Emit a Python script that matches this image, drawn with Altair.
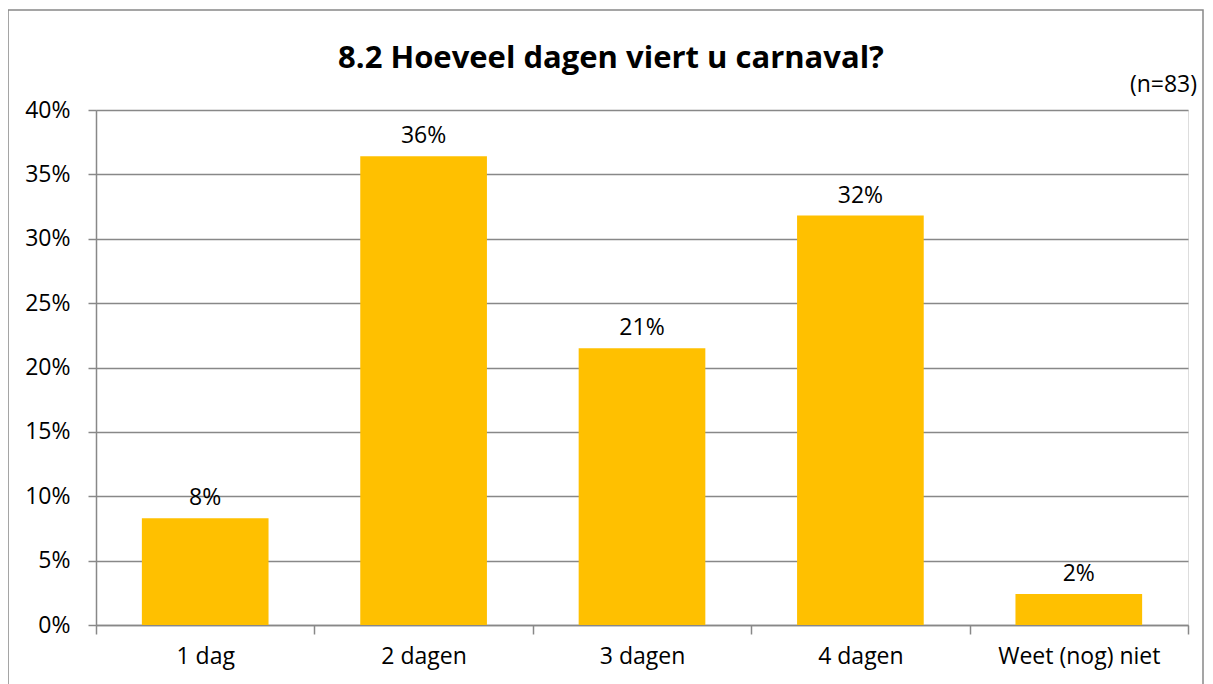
import altair as alt
import pandas as pd

categories = ["1 dag", "2 dagen", "3 dagen", "4 dagen", "Weet (nog) niet"]
values = [0.083, 0.364, 0.215, 0.318, 0.024]
labels = ["8%", "36%", "21%", "32%", "2%"]

df = pd.DataFrame({"cat": categories, "val": values, "lab": labels})

FONT = "Open Sans"
FS = 23
W, H = 1092, 515

x = alt.X("cat:N", sort=categories, title=None,
          scale=alt.Scale(paddingInner=0, paddingOuter=0),
          axis=alt.Axis(labelAngle=0, labelFont=FONT, labelFontSize=FS, labelColor="#000",
                        tickBand="extent", tickSize=9, tickColor="#888", tickWidth=1.5,
                        domainColor="#888", domainWidth=1.5, labelPadding=11, grid=False))
y = alt.Y("val:Q", title=None,
          scale=alt.Scale(domain=[0, 0.4], nice=False),
          axis=alt.Axis(format=".0%", values=[0, 0.05, 0.1, 0.15, 0.2, 0.25, 0.3, 0.35, 0.4],
                        labelFont=FONT, labelFontSize=FS, labelColor="#000",
                        tickSize=8, tickColor="#888", tickWidth=1.5, labelPadding=18,
                        domainColor="#888", domainWidth=1.5,
                        grid=True, gridColor="#888", gridWidth=1.5))

base = alt.Chart(df)
bars = base.mark_bar(color="#FFC000", width=alt.RelativeBandSize(0.58)).encode(x=x, y=y)
text = base.mark_text(font=FONT, fontSize=FS, color="#000", baseline="bottom", dy=-8).encode(
    x=alt.X("cat:N", sort=categories), y="val:Q", text="lab:N")

border = alt.Chart(pd.DataFrame({"a": [0]})).mark_rect(
    fill=None, stroke="#888", strokeWidth=1.5, clip=False).encode(
    x=alt.value(-88), x2=alt.value(W + 15), y=alt.value(-100), y2=alt.value(H + 80))

title = alt.Chart(pd.DataFrame({"t": ["8.2 Hoeveel dagen viert u carnaval?"]})).mark_text(
    font=FONT, fontSize=31, fontWeight="bold", color="#000", align="center", baseline="middle").encode(
    x=alt.value(515), y=alt.value(-51), text="t:N")

nlab = alt.Chart(pd.DataFrame({"t": ["(n=83)"]})).mark_text(
    font=FONT, fontSize=FS, color="#000", align="right", baseline="middle").encode(
    x=alt.value(W + 9), y=alt.value(-25), text="t:N")

chart = alt.layer(border, bars, text, title, nlab).properties(
    width=W, height=H,
    autosize=alt.AutoSizeParams(type="none"),
    padding={"left": 88, "top": 102, "right": 17, "bottom": 60},
).configure_view(stroke=None).configure(background="white")

chart.save("out.html", embed_options={"renderer": "svg", "actions": False})
